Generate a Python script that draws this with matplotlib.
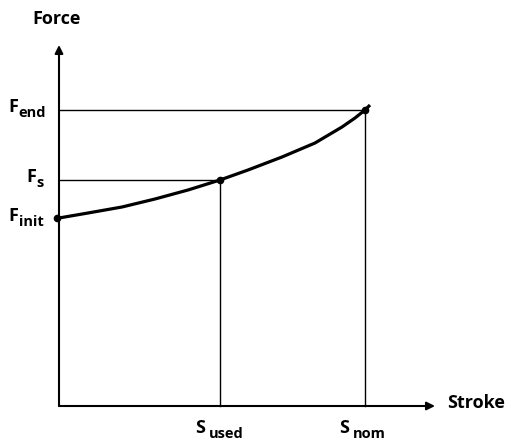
import matplotlib
matplotlib.use("Agg")
import matplotlib.pyplot as plt

plt.rcParams['font.family'] = ['Open Sans', 'DejaVu Sans']

# spring characteristic: force rises with stroke
stroke = [0, 29, 63, 96, 129, 161, 189, 223, 256, 283, 296, 306, 311]
force = [188, 193, 199, 207, 216, 226, 236, 249, 263, 279, 288, 296, 301]

# marked operating points
s_used, s_nom = 161, 306
f_init, f_s, f_end = 188, 226, 296

W, H = 511, 441
fig = plt.figure(figsize=(W / 100, H / 100), dpi=100)
ox, oy = 59, 406          # origin in pixels
xmax, ymax = 376, 361
ax = fig.add_axes([ox / W, (H - oy) / H, xmax / W, ymax / H])
ax.set_xlim(0, xmax)
ax.set_ylim(0, ymax)
ax.axis('off')

# axes with arrows
arr = dict(arrowstyle='-|>', color='black', lw=1.5, mutation_scale=12,
           shrinkA=0, shrinkB=0)
ax.annotate('', xy=(xmax, 0), xytext=(0, 0), arrowprops=arr, annotation_clip=False)
ax.annotate('', xy=(0, ymax), xytext=(0, 0), arrowprops=arr, annotation_clip=False)

# guide lines to the axes
for s, f in [(s_used, f_s), (s_nom, f_end)]:
    ax.plot([0, s], [f, f], color='black', lw=1.0, clip_on=False)
    ax.plot([s, s], [0, f], color='black', lw=1.0, clip_on=False)

ax.plot(stroke, force, color='black', lw=2.3, solid_joinstyle='round',
        solid_capstyle='butt', clip_on=False)
ax.plot([-2, s_used, s_nom], [f_init, f_s, f_end], 'o', color='black', ms=4.5,
        clip_on=False)

kw = dict(fontsize=13, fontweight='bold', va='baseline', ha='left')
ax.text(-27, 382, 'Force', **kw)
ax.text(388, -2, 'Stroke', **kw)


def sub_label(x, y, main, sub, gap=0.5):
    t = ax.text(x, y, main, **kw)
    ax.annotate(sub, xy=(1, 0), xycoords=t, xytext=(gap, -0.5),
                textcoords='offset points', fontsize=10.5, fontweight='bold',
                va='baseline', ha='left')


sub_label(-51, 294, 'F', 'end')
sub_label(-33, 224, 'F', 's')
sub_label(-51, 185, 'F', 'init')
sub_label(136, -27, 'S', 'used', gap=3)
sub_label(280, -27, 'S', 'nom', gap=3)

fig.savefig('out.png', dpi=100)
